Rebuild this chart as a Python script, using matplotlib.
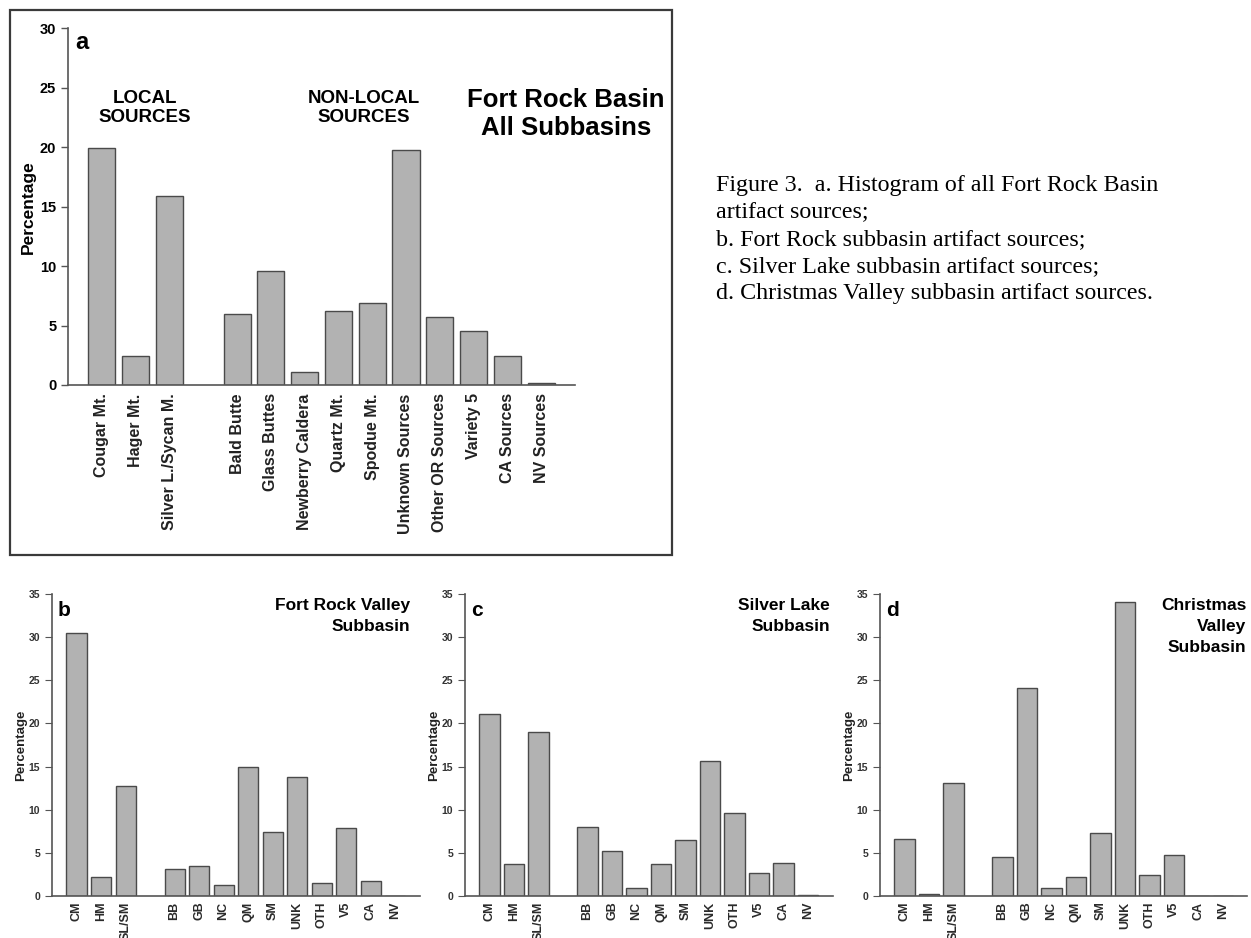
import matplotlib
matplotlib.use('Agg')
import matplotlib.pyplot as plt
from matplotlib.patches import Rectangle
import numpy as np

plt.rcParams['font.family'] = ['Liberation Sans', 'DejaVu Sans']

# source names (panel a) and abbreviations (panels b-d)
long_labels = ["Cougar Mt.", "Hager Mt.", "Silver L./Sycan M.",
               "Bald Butte", "Glass Buttes", "Newberry Caldera", "Quartz Mt.",
               "Spodue Mt.", "Unknown Sources", "Other OR Sources", "Variety 5",
               "CA Sources", "NV Sources"]
short_labels = ["CM", "HM", "SL/SM", "BB", "GB", "NC", "QM", "SM", "UNK",
                "OTH", "V5", "CA", "NV"]

# percentages
all_basins = [19.9, 2.4, 15.9, 5.95, 9.6, 1.05, 6.2, 6.9, 19.8, 5.7, 4.5, 2.4, 0.15]
fort_rock = [30.5, 2.15, 12.8, 3.1, 3.45, 1.3, 14.95, 7.45, 13.75, 1.45, 7.9, 1.75, 0.0]
silver_lake = [21.1, 3.7, 19.0, 8.0, 5.2, 0.95, 3.7, 6.5, 15.6, 9.6, 2.65, 3.85, 0.12]
christmas_valley = [6.6, 0.25, 13.1, 4.55, 24.15, 0.95, 2.15, 7.35, 34.1, 2.45, 4.75, 0.0, 0.0]

# three local sources, a gap, then ten non-local ones
xpos = np.r_[0:3, 4:14]

bar_fill = "#b2b2b2"
bar_edge = "#4a4a4a"
spine_col = "#555555"

fig = plt.figure(figsize=(12.51, 9.38), dpi=100)


def style_axes(ax):
    for s in ["top", "right"]:
        ax.spines[s].set_visible(False)
    for s in ["left", "bottom"]:
        ax.spines[s].set_color(spine_col)
        ax.spines[s].set_linewidth(1.2)
    ax.tick_params(axis="y", direction="out", color=spine_col)
    ax.tick_params(axis="x", length=0)


# ---- panel a ----
ax = fig.add_axes([0.0544, 0.5896, 0.4052, 0.3802])
ax.bar(xpos, all_basins, width=0.8, color=bar_fill, edgecolor=bar_edge, linewidth=1.0)
ax.set_xlim(-1, 14)
ax.set_ylim(0, 30)
ax.set_yticks(range(0, 31, 5))
ax.set_xticks(xpos)
ax.set_xticklabels(long_labels, rotation=90, fontsize=11.5, fontweight="bold",
                   color="#222222")
style_axes(ax)
ax.tick_params(axis="y", labelsize=10.5, length=5, width=1)
for t in ax.get_yticklabels():
    t.set_fontweight("bold")
ax.tick_params(axis="x", pad=6)
ax.set_ylabel("Percentage", fontsize=12.5, fontweight="bold", labelpad=3)
ax.text(-0.8, 28.8, "a", fontsize=17, fontweight="bold", va="center", ha="left")
ax.text(1.28, 23.3, "LOCAL\nSOURCES", fontsize=13.5, fontweight="bold",
        ha="center", va="center", linespacing=1.2)
ax.text(7.75, 23.3, "NON-LOCAL\nSOURCES", fontsize=13.5, fontweight="bold",
        ha="center", va="center", linespacing=1.2)
ax.text(13.74, 22.8, "Fort Rock Basin\nAll Subbasins", fontsize=18.5, fontweight="bold",
        ha="center", va="center", linespacing=1.25)

fig.patches.append(Rectangle((10 / 1251, 1 - 555 / 938), 662 / 1251, 545 / 938,
                             transform=fig.transFigure, fill=False,
                             edgecolor="#3a3a3a", linewidth=1.6))

# ---- panels b, c, d ----
panels = [
    (0.0416, fort_rock, "b", "Fort Rock Valley\nSubbasin", 13.6),
    (0.3717, silver_lake, "c", "Silver Lake\nSubbasin", 13.9),
    (0.7034, christmas_valley, "d", "Christmas\nValley\nSubbasin", 13.95),
]
for left, vals, letter, title, tx in panels:
    ax = fig.add_axes([left, 0.0448, 0.2938, 0.3219])
    ax.bar(xpos, vals, width=0.82, color=bar_fill, edgecolor=bar_edge, linewidth=1.0)
    ax.set_xlim(-1, 14)
    ax.set_ylim(0, 35)
    ax.set_yticks(range(0, 36, 5))
    ax.set_xticks(xpos)
    ax.set_xticklabels(short_labels, rotation=90, fontsize=9, fontweight="bold",
                       color="#2a2a2a")
    style_axes(ax)
    ax.tick_params(axis="y", labelsize=7.5, length=5, width=0.8, labelcolor="#333333")
    for t in ax.get_yticklabels():
        t.set_fontweight("bold")
    ax.tick_params(axis="x", pad=4)
    ax.set_ylabel("Percentage", fontsize=9.5, fontweight="bold", labelpad=1, color="#222222")
    ax.text(-0.76, 33.1, letter, fontsize=15, fontweight="bold", va="center", ha="left")
    ax.text(tx, 34.5, title, fontsize=12.5, fontweight="bold",
            ha="right", va="top", linespacing=1.5)

caption = ("Figure 3.  a. Histogram of all Fort Rock Basin\n"
           "artifact sources;\n"
           "b. Fort Rock subbasin artifact sources;\n"
           "c. Silver Lake subbasin artifact sources;\n"
           "d. Christmas Valley subbasin artifact sources.")
fig.text(716 / 1251, 1 - 175 / 938, caption, family="Liberation Serif", fontsize=17.3,
         ha="left", va="top", linespacing=1.37)

fig.savefig("out.png", dpi=100)
